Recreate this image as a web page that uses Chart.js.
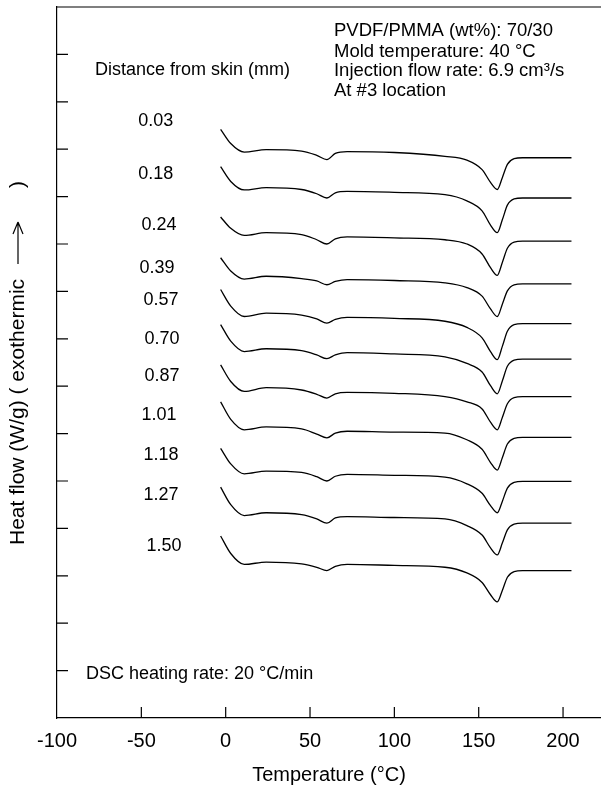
<!DOCTYPE html>
<html>
<head>
<meta charset="utf-8">
<script src="https://cdn.jsdelivr.net/npm/chart.js@4.4.1/dist/chart.umd.min.js"></script>
<style>
body { margin: 0; background: #fff; }
</style>
</head>
<body>
<canvas id="myChart" width="601" height="790"></canvas>
<script>
let ctx = document.getElementById('myChart');

// temperature (°C) where the curves were read
let temps = [-3, 3, 11, 24, 45, 54, 60, 65, 72, 100, 130, 143, 152, 157, 161, 164, 167, 171, 176, 205];

// distance from skin (mm)
let distances = ['0.03', '0.18', '0.24', '0.39', '0.57', '0.70', '0.87', '1.01', '1.18', '1.27', '1.50'];

// heat flow, shifted traces (one tick = 1 unit)
let flow_003 = [12.42, 12.12, 11.94, 11.99, 11.96, 11.87, 11.78, 11.91, 11.95, 11.93, 11.85, 11.77, 11.57, 11.30, 11.15, 11.40, 11.68, 11.80, 11.82, 11.82];
let flow_018 = [11.63, 11.32, 11.14, 11.19, 11.15, 11.06, 10.97, 11.08, 11.11, 11.09, 11.04, 10.91, 10.70, 10.40, 10.24, 10.51, 10.82, 10.95, 10.97, 10.97];
let flow_024 = [10.57, 10.33, 10.18, 10.24, 10.20, 10.09, 10.00, 10.11, 10.15, 10.13, 10.09, 10.00, 9.79, 9.50, 9.34, 9.61, 9.91, 10.04, 10.06, 10.06];
let flow_039 = [9.71, 9.43, 9.26, 9.32, 9.27, 9.22, 9.14, 9.21, 9.25, 9.23, 9.18, 9.08, 8.90, 8.63, 8.47, 8.73, 9.01, 9.14, 9.16, 9.16];
let flow_057 = [9.04, 8.69, 8.47, 8.54, 8.50, 8.42, 8.33, 8.41, 8.45, 8.43, 8.37, 8.24, 8.02, 7.73, 7.56, 7.84, 8.16, 8.30, 8.32, 8.32];
let flow_070 = [8.30, 7.95, 7.73, 7.79, 7.75, 7.66, 7.58, 7.66, 7.71, 7.68, 7.62, 7.48, 7.30, 7.01, 6.84, 7.11, 7.42, 7.55, 7.57, 7.57];
let flow_087 = [7.45, 7.10, 6.89, 6.97, 6.92, 6.83, 6.75, 6.84, 6.87, 6.85, 6.78, 6.67, 6.52, 6.24, 6.08, 6.34, 6.63, 6.76, 6.78, 6.78];
let flow_101 = [6.67, 6.30, 6.08, 6.14, 6.10, 5.99, 5.91, 6.01, 6.05, 6.03, 6.01, 5.87, 5.67, 5.39, 5.23, 5.49, 5.78, 5.90, 5.92, 5.92];
let flow_118 = [5.69, 5.36, 5.15, 5.21, 5.18, 5.09, 5.00, 5.10, 5.14, 5.12, 5.08, 4.94, 4.74, 4.48, 4.33, 4.57, 4.85, 4.97, 4.99, 4.99];
let flow_127 = [4.87, 4.50, 4.27, 4.33, 4.29, 4.20, 4.11, 4.22, 4.25, 4.23, 4.20, 4.06, 3.86, 3.59, 3.44, 3.69, 3.97, 4.09, 4.11, 4.11];
let flow_150 = [3.84, 3.47, 3.24, 3.29, 3.25, 3.18, 3.11, 3.20, 3.24, 3.22, 3.18, 3.06, 2.86, 2.60, 2.45, 2.69, 2.97, 3.09, 3.11, 3.11];

let all_flows = [flow_003, flow_018, flow_024, flow_039, flow_057, flow_070, flow_087, flow_101, flow_118, flow_127, flow_150];

// where the distance labels sit (data units)
let label_t = [-41.5, -41.5, -39.5, -40.7, -38.4, -37.8, -37.8, -39.5, -38.4, -38.4, -36.6];
let label_v = [12.59, 11.47, 10.41, 9.50, 8.81, 8.00, 7.22, 6.40, 5.55, 4.71, 3.63];

let info_lines = ['PVDF/PMMA (wt%): 70/30', 'Mold temperature: 40 °C', 'Injection flow rate: 6.9 cm³/s', 'At #3 location'];

const FONT = '"Liberation Sans", Arial, Helvetica, sans-serif';

function make_sets() {
    let sets = [];
    all_flows.forEach((flow, i) => {
        sets.push({
            label: distances[i],
            data: temps.map((t, k) => ({ x: t, y: flow[k] })),
            borderColor: '#000',
            borderWidth: 1.3,
            pointRadius: 0,
            fill: false,
            cubicInterpolationMode: 'monotone'
        });
    });
    return sets;
}

// y title with a drawn arrow, rotated
function draw_y_title(c, area) {
    c.save();
    c.translate(18, 545);
    c.rotate(-Math.PI / 2);
    c.fillStyle = '#000';
    c.strokeStyle = '#000';
    c.font = '21px ' + FONT;
    c.textAlign = 'left';
    c.textBaseline = 'middle';
    c.fillText('Heat flow (W/g) ( exothermic', 0, 0);
    // arrow
    c.lineWidth = 1.2;
    c.beginPath();
    c.moveTo(281, 0);
    c.lineTo(323, 0);
    c.moveTo(323, 0);
    c.lineTo(311, -5);
    c.moveTo(323, 0);
    c.lineTo(311, 5);
    c.stroke();
    c.fillText(')', 357, 0);
    c.restore();
}

let notes_plugin = {
    id: 'notes',
    afterDraw(chart) {
        let c = chart.ctx;
        let xs = chart.scales.x, ys = chart.scales.y, area = chart.chartArea;
        c.save();
        c.strokeStyle = '#000';
        c.lineWidth = 1.2;
        // top frame line
        c.beginPath();
        c.moveTo(area.left, area.top);
        c.lineTo(area.right, area.top);
        c.stroke();
        // inward ticks
        c.beginPath();
        ys.ticks.forEach(t => {
            if (t.value <= 0 || t.value >= 15) return;
            let y = ys.getPixelForValue(t.value);
            c.moveTo(area.left, y);
            c.lineTo(area.left + 11, y);
        });
        xs.ticks.forEach(t => {
            if (t.value <= -100) return;
            let x = xs.getPixelForValue(t.value);
            c.moveTo(x, area.bottom);
            c.lineTo(x, area.bottom - 11);
        });
        c.stroke();

        c.fillStyle = '#000';
        c.textBaseline = 'middle';
        c.font = '18px ' + FONT;
        c.textAlign = 'center';
        distances.forEach((d, i) => {
            c.fillText(d, xs.getPixelForValue(label_t[i]), ys.getPixelForValue(label_v[i]));
        });
        c.textAlign = 'left';
        c.fillText('Distance from skin (mm)', xs.getPixelForValue(-77.5), ys.getPixelForValue(13.67));
        c.fillText('DSC heating rate: 20 °C/min', xs.getPixelForValue(-82.8), ys.getPixelForValue(0.92));
        c.font = '18.5px ' + FONT;
        let info_v = [14.49, 14.05, 13.65, 13.24];
        info_lines.forEach((s, i) => {
            c.fillText(s, xs.getPixelForValue(64.2), ys.getPixelForValue(info_v[i]));
        });
        c.restore();
        draw_y_title(c, area);
    }
};

let chart = new Chart(ctx, {
    type: 'line',
    data: { datasets: make_sets() },
    options: {
        responsive: false,
        animation: false,
        devicePixelRatio: 1,
        layout: { padding: { top: 7, right: 0, left: 0, bottom: 0 } },
        plugins: { legend: { display: false }, tooltip: { enabled: false } },
        scales: {
            x: {
                type: 'linear',
                min: -100,
                max: 222.5,
                afterFit(scale) { scale.height = 72; },
                border: { display: true, color: '#000', width: 1.2 },
                grid: { display: false, drawTicks: false },
                ticks: {
                    stepSize: 50,
                    includeBounds: false,
                    autoSkip: false,
                    maxRotation: 0,
                    padding: 11,
                    color: '#000',
                    font: { family: FONT, size: 20 }
                },
                title: {
                    display: true,
                    text: 'Temperature (°C)',
                    color: '#000',
                    padding: { top: 0, bottom: 3 },
                    font: { family: FONT, size: 20 }
                }
            },
            y: {
                type: 'linear',
                min: 0,
                max: 15,
                afterFit(scale) { scale.width = 57; },
                border: { display: true, color: '#000', width: 1.2 },
                grid: { display: false, drawTicks: false },
                ticks: { stepSize: 1, display: false },
                title: { display: false }
            }
        }
    },
    plugins: [notes_plugin]
});
</script>
</body>
</html>
